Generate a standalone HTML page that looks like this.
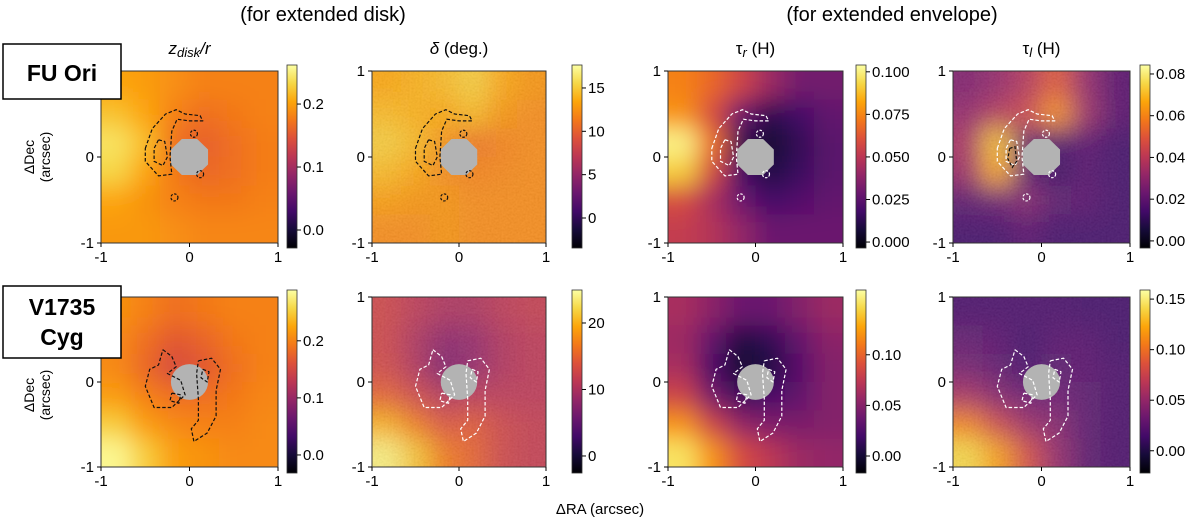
<!DOCTYPE html>
<html><head><meta charset="utf-8"><style>
html,body{margin:0;padding:0;background:#fff;}
svg{display:block;font-family:"Liberation Sans","DejaVu Sans",sans-serif;}
</style></head><body>
<svg id="fig" width="1200" height="522" viewBox="0 0 1200 522" xmlns="http://www.w3.org/2000/svg">
<defs>
<linearGradient id="infernoV" x1="0" y1="1" x2="0" y2="0">
<stop offset="0" stop-color="#000004"/><stop offset="0.1" stop-color="#160b39"/><stop offset="0.2" stop-color="#420a68"/><stop offset="0.3" stop-color="#6a176e"/><stop offset="0.4" stop-color="#932667"/><stop offset="0.5" stop-color="#bc3754"/><stop offset="0.6" stop-color="#dd513a"/><stop offset="0.7" stop-color="#f37819"/><stop offset="0.8" stop-color="#fca50a"/><stop offset="0.9" stop-color="#f6d746"/><stop offset="1" stop-color="#fcffa4"/>
</linearGradient>
<filter id="smooth" x="-0.3" y="-0.3" width="1.6" height="1.6"><feGaussianBlur stdDeviation="12"/></filter>
<filter id="noisy" x="0" y="0" width="1" height="1"><feTurbulence type="fractalNoise" baseFrequency="0.5" numOctaves="2" seed="3"/><feColorMatrix type="saturate" values="0"/><feComponentTransfer><feFuncA type="linear" slope="0" intercept="0.14"/></feComponentTransfer></filter>
</defs>
<text x="323" y="21" font-size="20" text-anchor="middle">(for extended disk)</text>
<text x="892" y="21" font-size="20" text-anchor="middle">(for extended envelope)</text>
<text x="600" y="514" font-size="15" text-anchor="middle">ΔRA (arcsec)</text>
<g id="panels"></g>
<rect x="3" y="44" width="118" height="55" fill="#fff" stroke="#000" stroke-width="1.5"/>
<text x="62" y="81" font-size="23" font-weight="bold" text-anchor="middle">FU Ori</text>
<rect x="3" y="286" width="118" height="72" fill="#fff" stroke="#000" stroke-width="1.5"/>
<text x="62" y="315" font-size="23" font-weight="bold" text-anchor="middle">V1735</text>
<text x="62" y="345" font-size="23" font-weight="bold" text-anchor="middle">Cyg</text>
</svg>
<script>
// ---- data ----
const gridA = [[0.8,0.78,0.75,0.72,0.72,0.72],[0.86,0.8,0.72,0.68,0.7,0.72],[0.93,0.85,0.68,0.64,0.68,0.71],[0.9,0.8,0.7,0.66,0.68,0.71],[0.8,0.76,0.72,0.7,0.7,0.72],[0.77,0.77,0.75,0.73,0.73,0.73]];
const gridB = [[0.8,0.82,0.84,0.88,0.8,0.76],[0.84,0.82,0.8,0.84,0.76,0.74],[0.88,0.84,0.76,0.68,0.72,0.74],[0.84,0.8,0.74,0.72,0.73,0.74],[0.78,0.76,0.76,0.74,0.74,0.74],[0.74,0.74,0.76,0.74,0.74,0.74]];
const gridC = [[0.72,0.66,0.55,0.42,0.32,0.32],[0.76,0.58,0.3,0.15,0.2,0.28],[0.97,0.68,0.15,0.08,0.16,0.26],[0.88,0.58,0.2,0.12,0.18,0.26],[0.58,0.45,0.3,0.2,0.24,0.28],[0.52,0.48,0.4,0.3,0.3,0.3]];
const gridD = [[0.35,0.4,0.48,0.62,0.4,0.25],[0.4,0.48,0.55,0.75,0.42,0.25],[0.45,0.85,0.25,0.22,0.25,0.2],[0.42,0.8,0.25,0.18,0.24,0.2],[0.26,0.3,0.36,0.26,0.25,0.2],[0.2,0.2,0.25,0.2,0.2,0.2]];
const gridE = [[0.76,0.72,0.68,0.7,0.72,0.72],[0.74,0.68,0.62,0.65,0.7,0.72],[0.74,0.66,0.58,0.62,0.68,0.72],[0.78,0.72,0.68,0.68,0.7,0.73],[0.88,0.78,0.74,0.72,0.72,0.74],[0.98,0.88,0.78,0.76,0.74,0.74]];
const gridF = [[0.55,0.5,0.46,0.46,0.5,0.52],[0.55,0.46,0.38,0.4,0.47,0.5],[0.56,0.47,0.35,0.4,0.47,0.5],[0.64,0.56,0.48,0.5,0.5,0.5],[0.82,0.7,0.6,0.62,0.55,0.52],[0.96,0.86,0.7,0.64,0.55,0.52]];
const gridG = [[0.45,0.38,0.3,0.3,0.36,0.42],[0.42,0.28,0.12,0.16,0.28,0.38],[0.45,0.22,0.08,0.12,0.25,0.36],[0.55,0.33,0.18,0.22,0.28,0.36],[0.76,0.55,0.4,0.35,0.34,0.36],[0.93,0.76,0.58,0.5,0.42,0.4]];
const gridH = [[0.22,0.22,0.22,0.22,0.2,0.2],[0.27,0.25,0.2,0.24,0.24,0.2],[0.32,0.27,0.2,0.26,0.25,0.22],[0.45,0.36,0.3,0.3,0.26,0.22],[0.72,0.55,0.42,0.36,0.26,0.22],[0.9,0.78,0.58,0.4,0.26,0.22]];
const grids = [gridA,gridB,gridC,gridD,gridE,gridF,gridG,gridH];
const cbMin = [-0.0286,-3.46,-0.0035,-0.0034,-0.0316,-2.56,-0.0168,-0.022];
const cbMax = [0.262,17.65,0.104,0.0843,0.289,24.96,0.164,0.159];
const cbTicksA = ["0.0","0.1","0.2"];
const cbTicksB = ["0","5","10","15"];
const cbTicksC = ["0.000","0.025","0.050","0.075","0.100"];
const cbTicksD = ["0.00","0.02","0.04","0.06","0.08"];
const cbTicksE = ["0.0","0.1","0.2"];
const cbTicksF = ["0","10","20"];
const cbTicksG = ["0.00","0.05","0.10"];
const cbTicksH = ["0.00","0.05","0.10","0.15"];
const cbTicks = [cbTicksA,cbTicksB,cbTicksC,cbTicksD,cbTicksE,cbTicksF,cbTicksG,cbTicksH];
const axisTicks = [-1,0,1];
const contourFuOuter = [[-0.5,0.1],[-0.42,0.33],[-0.27,0.5],[-0.15,0.55],[-0.05,0.5],[0.12,0.48],[0.15,0.42],[0.0,0.42],[-0.14,0.44],[-0.2,0.3],[-0.22,0.0],[-0.2,-0.2],[-0.35,-0.22],[-0.5,-0.05],[-0.5,0.1]];
const contourFuInner = [[-0.35,0.2],[-0.28,0.18],[-0.25,0.0],[-0.3,-0.1],[-0.4,-0.05],[-0.4,0.1],[-0.35,0.2]];
const contourFuDots = [[0.05,0.27],[0.12,-0.2],[-0.17,-0.47]];
const contourV1 = [[-0.3,0.38],[-0.2,0.3],[-0.15,0.18],[-0.25,0.1],[-0.1,0.02],[-0.05,-0.15],[-0.2,-0.3],[-0.4,-0.3],[-0.5,-0.05],[-0.45,0.15],[-0.35,0.2],[-0.3,0.38]];
const contourV2 = [[-0.2,-0.13],[-0.1,-0.15],[-0.12,-0.25],[-0.22,-0.22],[-0.2,-0.13]];
const contourV3 = [[0.1,0.25],[0.25,0.28],[0.35,0.15],[0.3,-0.1],[0.3,-0.4],[0.2,-0.6],[0.05,-0.7],[0.02,-0.55],[0.1,-0.45],[0.1,-0.2],[0.08,0.1],[0.1,0.25]];
const contourV4 = [[0.15,0.15],[0.22,0.12],[0.2,0.0],[0.13,0.05],[0.15,0.15]];
// ---- layout ----
const colX0 = [101,372,668,953], colX1 = [278,546,843,1130];
const cbX = [287,572,856,1140];
const rowY0 = [71,297], rowY1 = [243,467];
const cbY0 = [65,290], cbY1 = [248,473];
const contourColor = ["#111","#111","#fff","#fff","#111","#fff","#fff","#fff"];
const noisyPanels = [false,true,false,true,false,true,false,true];
const stops=[[0,0,0,4],[0.1,22,11,57],[0.2,66,10,104],[0.3,106,23,110],[0.4,147,38,103],[0.5,188,55,84],[0.6,221,81,58],[0.7,243,120,25],[0.8,252,165,10],[0.9,246,215,70],[1,252,255,164]];
function inferno(t){t=Math.max(0,Math.min(1,t));for(let i=1;i<stops.length;i++){if(t<=stops[i][0]){const a=stops[i-1],b=stops[i],f=(t-a[0])/(b[0]-a[0]);return `rgb(${Math.round(a[1]+f*(b[1]-a[1]))},${Math.round(a[2]+f*(b[2]-a[2]))},${Math.round(a[3]+f*(b[3]-a[3]))})`;}}return "rgb(252,255,164)";}
const NS="http://www.w3.org/2000/svg";
const root=document.getElementById('panels');
function mk(tag,attrs,parent){const e=document.createElementNS(NS,tag);for(const k in attrs)e.setAttribute(k,attrs[k]);(parent||root).appendChild(e);return e;}
function txt(x,y,s,size,anchor,parent){const t=mk('text',{x:x,y:y,'font-size':size,'text-anchor':anchor},parent);t.textContent=s;return t;}
for(let p=0;p<8;p++){
  const r=Math.floor(p/4),c=p%4;
  const x0=colX0[c],x1=colX1[c],y0=rowY0[r],y1=rowY1[r];
  const sx=v=>x0+(v+1)/2*(x1-x0), sy=v=>y1-(v+1)/2*(y1-y0);
  const g=mk('g',{});
  
  
  mk('clipPath',{id:'clip'+p},g); mk('rect',{x:x0,y:y0,width:x1-x0,height:y1-y0},g.lastChild);
  const hm=mk('g',{'clip-path':`url(#clip${p})`},g);
  const hb=mk('g',{filter:'url(#smooth)'},hm);
  const grid=grids[p],n=grid.length,cw=(x1-x0)/n,ch=(y1-y0)/n;
  for(let i=-2;i<n+2;i++)for(let j=-2;j<n+2;j++){
    const ii=Math.max(0,Math.min(n-1,i)),jj=Math.max(0,Math.min(n-1,j));
    const cell=mk('rect',{x:x0+j*cw,y:y0+i*ch,width:cw+0.5,height:ch+0.5,fill:inferno(grid[ii][jj])},hb);
    
    
  }
  if(noisyPanels[p]) mk('rect',{x:x0,y:y0,width:x1-x0,height:y1-y0,filter:'url(#noisy)'},hm);
  const rad=0.21;
  if(r===0){
    const pts=[];for(let k=0;k<8;k++){const a=Math.PI/8+k*Math.PI/4;pts.push(sx(rad*1.08*Math.cos(a))+','+sy(rad*1.08*Math.sin(a)));}
    const m=mk('polygon',{points:pts.join(' '),fill:'#b3b3b3'},hm);
    
    
  } else {
    const m=mk('ellipse',{cx:sx(0),cy:sy(0),rx:sx(rad)-sx(0),ry:sy(0)-sy(rad),fill:'#b3b3b3'},hm);
    
    
  }
  const lines = r===0?[contourFuOuter,contourFuInner]:[contourV1,contourV2,contourV3,contourV4];
  lines.forEach(L=>{
    const d='M'+L.map(q=>sx(q[0]).toFixed(1)+','+sy(q[1]).toFixed(1)).join('L');
    const cp=mk('path',{d:d,fill:'none',stroke:contourColor[p],'stroke-width':1.2,'stroke-dasharray':'3.5,2','stroke-linejoin':'round'},hm);
    
    
  });
  if(r===0){contourFuDots.forEach(q=>{const cd=mk('circle',{cx:sx(q[0]),cy:sy(q[1]),r:3.5,fill:'none',stroke:contourColor[p],'stroke-width':1.2,'stroke-dasharray':'2.5,1.5'},hm);
    
    });}
  if(p===3){const L=[[-0.36,0.1],[-0.3,0.12],[-0.28,-0.05],[-0.33,-0.12],[-0.38,-0.02],[-0.36,0.1]];
    const cp=mk('path',{d:'M'+L.map(q=>sx(q[0])+','+sy(q[1])).join('L'),fill:'none',stroke:'#111','stroke-width':1.2,'stroke-dasharray':'3,2'},hm);
    
    }
  mk('rect',{x:x0,y:y0,width:x1-x0,height:y1-y0,fill:'none',stroke:'#333','stroke-width':1},g);
  axisTicks.forEach(v=>{
    mk('line',{x1:sx(v),x2:sx(v),y1:y1,y2:y1+4,stroke:'#000'},g);
    const tx=txt(sx(v),y1+19,String(v),15,'middle',g);
    
    
    if(!(c===0&&r===0&&v===1)&&!(c===0&&r===1&&v===1)){
      mk('line',{x1:x0-4,x2:x0,y1:sy(v),y2:sy(v),stroke:'#000'},g);
      const ty=txt(x0-7,sy(v)+5,String(v),15,'end',g);
      
      
    }
  });
  if(r===0){
    const t=mk('text',{x:(x0+x1)/2,y:54,'font-size':17,'text-anchor':'middle'},g);
    
    
    const P=[[["z","i"],["disk","sub"],["/r","i"]],[["δ","i"],[" (deg.)",""]],[["τ",""],["r","sub"],[" (H)",""]],[["τ",""],["l","sub"],[" (H)",""]]][c];
    P.forEach(q=>{const s=document.createElementNS(NS,'tspan');s.textContent=q[0];
      if(q[1]==='sub'){s.setAttribute('baseline-shift','-25%');s.setAttribute('font-size','13');s.setAttribute('font-style','italic');}
      else if(q[1]==='i'){s.setAttribute('font-style','italic');}
      t.appendChild(s);});
  }
  const cx=cbX[c],cy0=cbY0[r],cy1=cbY1[r];
  const cb=mk('rect',{x:cx,y:cy0,width:10,height:cy1-cy0,fill:'url(#infernoV)',stroke:'#333','stroke-width':0.8},g);
  
  
  const vmin=cbMin[p],vmax=cbMax[p];
  cbTicks[p].forEach(s=>{const v=parseFloat(s);const y=cy1-(v-vmin)/(vmax-vmin)*(cy1-cy0);
    mk('line',{x1:cx+10,x2:cx+14,y1:y,y2:y,stroke:'#000'},g);
    const tl=txt(cx+16,y+5,s,15,'start',g);
    
    });
}
[157,395].forEach((y,i)=>{
  const g=mk('g',{transform:`translate(40,${y}) rotate(-90)`});
  
  
  txt(0,-6,'ΔDec',14,'middle',g);txt(0,10,'(arcsec)',14,'middle',g);
});
</script>
</body></html>
